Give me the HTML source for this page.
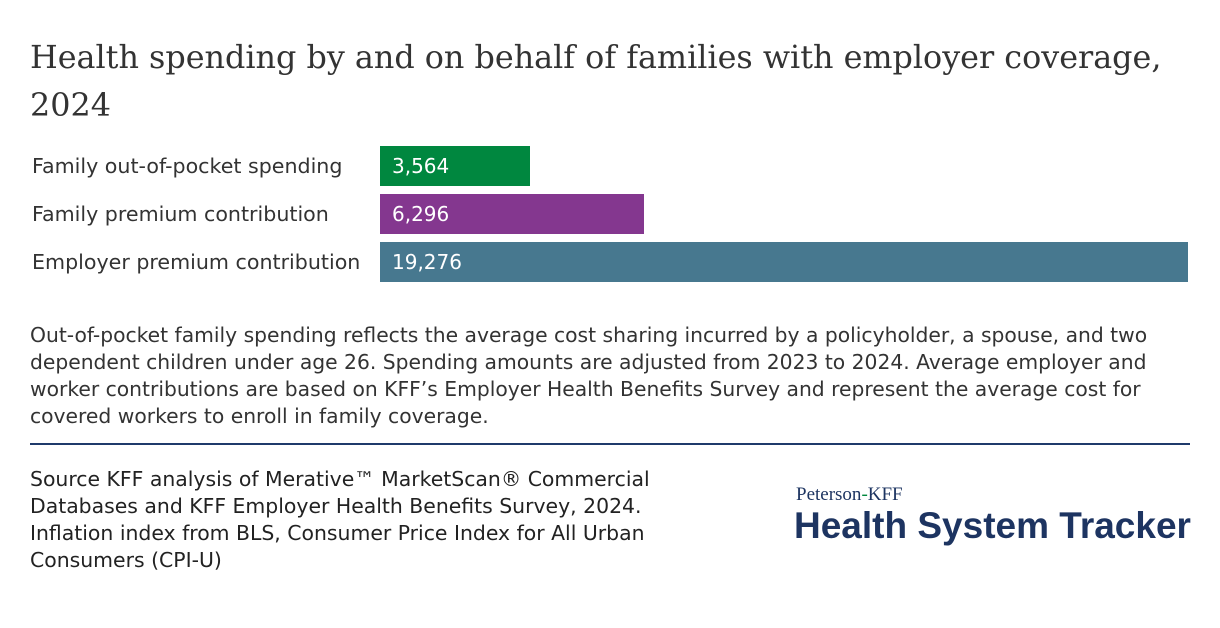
<!DOCTYPE html>
<html><head><meta charset="utf-8"><style>
body{margin:0;width:1220px;height:628px;background:#fff;position:relative;font-family:"DejaVu Sans",sans-serif;color:#333;overflow:hidden}
.t{position:absolute;left:30px;top:34px;width:1190px;font-family:"DejaVu Serif",serif;font-size:31.8px;line-height:48px;color:#333;white-space:nowrap}
.l{position:absolute;left:32px;font-size:20.6px;color:#333;line-height:40px;white-space:nowrap}
.b{position:absolute;left:380px;height:40px;color:#fff;font-size:20px;line-height:40px;padding-left:12px;box-sizing:border-box}
.n{position:absolute;left:30px;top:322px;width:1180px;font-size:20.3px;line-height:27px;color:#333;white-space:nowrap}
.hr{position:absolute;left:30px;top:443px;width:1160px;height:2px;background:#1f3a6b}
.s{position:absolute;left:30px;top:466px;font-size:20.4px;line-height:27px;color:#222;white-space:nowrap}
.p{position:absolute;left:796px;top:484px;font-family:"Liberation Serif",serif;font-size:19px;color:#1d3461}
.h{position:absolute;left:794px;top:505px;font-family:"Liberation Sans",sans-serif;font-size:37px;font-weight:bold;color:#1d3461;white-space:nowrap}
</style></head><body>
<div class="t">Health spending by and on behalf of families with employer coverage,<br>2024</div>
<div class="l" style="top:146px">Family out-of-pocket spending</div>
<div class="l" style="top:194px">Family premium contribution</div>
<div class="l" style="top:242px">Employer premium contribution</div>
<div class="b" style="top:146px;width:150px;background:#00873f">3,564</div>
<div class="b" style="top:194px;width:264px;background:#84378f">6,296</div>
<div class="b" style="top:242px;width:808px;background:#47788f">19,276</div>
<div class="n">Out-of-pocket family spending reflects the average cost sharing incurred by a policyholder, a spouse, and two<br>dependent children under age 26. Spending amounts are adjusted from 2023 to 2024. Average employer and<br>worker contributions are based on KFF’s Employer Health Benefits Survey and represent the average cost for<br>covered workers to enroll in family coverage.</div>
<div class="hr"></div>
<div class="s">Source KFF analysis of Merative™ MarketScan® Commercial<br>Databases and KFF Employer Health Benefits Survey, 2024.<br>Inflation index from BLS, Consumer Price Index for All Urban<br>Consumers (CPI-U)</div>
<div class="p">Peterson<span style="color:#00873f">-</span>KFF</div>
<div class="h">Health System Tracker</div>
</body></html>
